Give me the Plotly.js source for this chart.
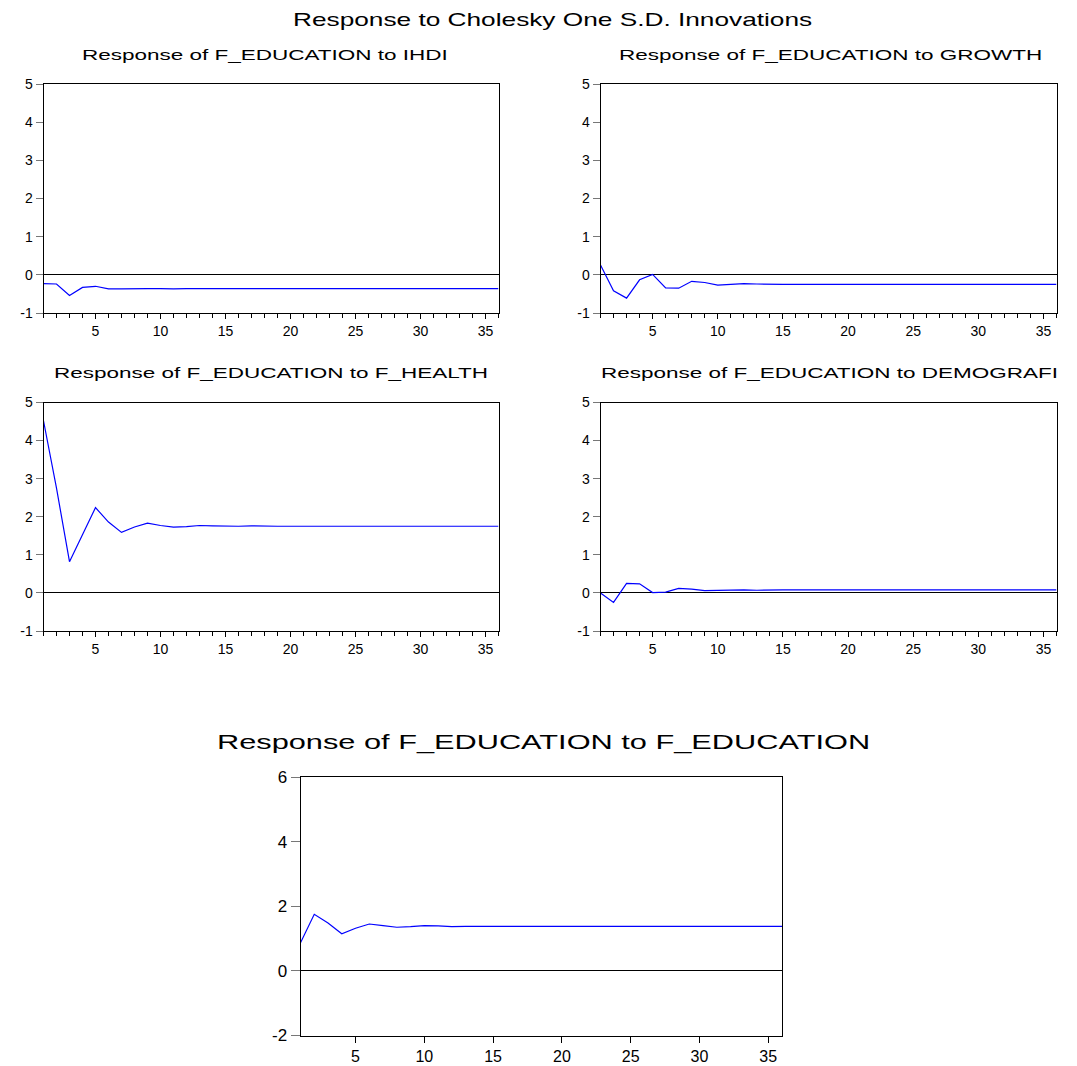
<!DOCTYPE html>
<html>
<head>
<meta charset="utf-8">
<script src="https://cdn.plot.ly/plotly-3.0.1.min.js"></script>
<style>
  html, body { margin: 0; padding: 0; background: #fff; }
  #chart { width: 1077px; height: 1066px; }
  .annotation-text { transform-box: fill-box; transform-origin: center; transform: scaleX(1.5); }
</style>
</head>
<body>
<div id="chart"></div>
<script>
// Periods 1..36
const periods = [1,2,3,4,5,6,7,8,9,10,11,12,13,14,15,16,17,18,19,20,21,22,23,24,25,26,27,28,29,30,31,32,33,34,35,36];

const respIHDI = [-0.23,-0.24,-0.54,-0.33,-0.30,-0.37,-0.37,-0.36,-0.36,-0.36,-0.37,-0.36,-0.36,-0.36,-0.36,-0.36,-0.36,-0.36,-0.36,-0.36,-0.36,-0.36,-0.36,-0.36,-0.36,-0.36,-0.36,-0.36,-0.36,-0.36,-0.36,-0.36,-0.36,-0.36,-0.36,-0.36];

const respGrowth = [0.26,-0.42,-0.61,-0.13,0.01,-0.34,-0.35,-0.17,-0.20,-0.27,-0.25,-0.23,-0.24,-0.25,-0.25,-0.25,-0.25,-0.25,-0.25,-0.25,-0.25,-0.25,-0.25,-0.25,-0.25,-0.25,-0.25,-0.25,-0.25,-0.25,-0.25,-0.25,-0.25,-0.25,-0.25,-0.25];

const respHealth = [4.52,2.75,0.82,1.52,2.24,1.86,1.59,1.73,1.83,1.77,1.73,1.74,1.77,1.76,1.75,1.75,1.76,1.75,1.75,1.75,1.75,1.75,1.75,1.75,1.75,1.75,1.75,1.75,1.75,1.75,1.75,1.75,1.75,1.75,1.75,1.75];

const respDemog = [0.00,-0.25,0.25,0.24,0.01,0.02,0.12,0.10,0.06,0.07,0.08,0.08,0.07,0.08,0.08,0.08,0.08,0.08,0.08,0.08,0.08,0.08,0.08,0.08,0.08,0.08,0.08,0.08,0.08,0.08,0.08,0.08,0.08,0.08,0.08,0.08];

const respEduc = [0.87,1.75,1.48,1.15,1.32,1.45,1.40,1.35,1.37,1.40,1.39,1.37,1.38,1.39,1.38,1.38,1.38,1.38,1.38,1.38,1.38,1.38,1.38,1.38,1.38,1.38,1.38,1.38,1.38,1.38,1.38,1.38,1.38,1.38,1.38,1.38];

const xTickVals = [5,10,15,20,25,30,35];
const yTickVals4 = [-1,0,1,2,3,4,5];
const yTickText4 = ["-1","0","1","2","3","4","5"];
const yTickVals5 = [-2,0,2,4,6];
const yTickText5 = ["-2","0","2","4","6"];

const mainTitle = "Response to Cholesky One S.D. Innovations";
const panelTitles = [
  "Response of F_EDUCATION to IHDI",
  "Response of F_EDUCATION to GROWTH",
  "Response of F_EDUCATION to F_HEALTH",
  "Response of F_EDUCATION to DEMOGRAFI",
  "Response of F_EDUCATION to F_EDUCATION"
];

const W = 1077, H = 1066;
const FONT = "Liberation Sans, Arial, sans-serif";
const series = [respIHDI, respGrowth, respHealth, respDemog, respEduc];

// panel boxes in pixels [x0, x1, yTop, yBottom]
const boxes = [
  [43.5, 498.5, 84, 313],
  [600.5, 1056.5, 84, 313],
  [43.5, 498.5, 402.5, 631],
  [600.5, 1056.5, 402.5, 631],
  [300.5, 782, 777, 1035.5]
];

const traces = series.map((ys, i) => ({
  x: periods, y: ys, type: 'scatter', mode: 'lines',
  line: {color: '#0000FF', width: 1.2},
  xaxis: 'x' + (i ? i + 1 : ''), yaxis: 'y' + (i ? i + 1 : ''),
  showlegend: false, hoverinfo: 'x+y'
}));

const layout = {
  width: W, height: H,
  margin: {l: 0, r: 0, t: 0, b: 0},
  paper_bgcolor: '#fff', plot_bgcolor: '#fff',
  showlegend: false,
  font: {family: FONT, color: '#000'},
  annotations: []
};

boxes.forEach((b, i) => {
  const big = i === 4;
  const xa = {
    domain: [b[0] / W, b[1] / W],
    range: [1, 36], anchor: 'y' + (i ? i + 1 : ''),
    showline: true, mirror: true, linecolor: '#000', linewidth: 1,
    showgrid: false, zeroline: false,
    tickmode: 'array', tickvals: xTickVals,
    ticks: 'outside', ticklen: big ? 6 : 5, tickcolor: '#000', tickwidth: 1,
    tickfont: {family: FONT, size: big ? 16 : 14, color: '#000'},
    fixedrange: true
  };
  if (!big) {
    xa.minor = {dtick: 1, tick0: 0, ticks: 'outside', ticklen: 4, tickcolor: '#000', tickwidth: 1, showgrid: false};
  }
  const ya = {
    domain: [1 - b[3] / H, 1 - b[2] / H],
    range: big ? [-2, 6] : [-1, 5], anchor: 'x' + (i ? i + 1 : ''),
    showline: true, mirror: true, linecolor: '#000', linewidth: 1,
    showgrid: false,
    zeroline: true, zerolinecolor: '#000', zerolinewidth: 1,
    tickmode: 'array', tickvals: big ? yTickVals5 : yTickVals4,
    ticktext: big ? yTickText5 : yTickText4,
    ticks: 'outside', ticklen: big ? 9 : 7, tickcolor: '#777', tickwidth: 1,
    tickfont: {family: FONT, size: big ? 17 : 14, color: '#000'},
    fixedrange: true
  };
  layout['xaxis' + (i ? i + 1 : '')] = xa;
  layout['yaxis' + (i ? i + 1 : '')] = ya;
});

layout.annotations.push({
  text: mainTitle, xref: 'paper', yref: 'paper',
  x: 553 / W, y: 1 - 20 / H, xanchor: 'center', yanchor: 'middle',
  showarrow: false, font: {family: FONT, size: 17.5, color: '#000'}
});

const titlePos = [[265, 55], [830, 55], [271, 373], [829, 373], [543, 742]];
panelTitles.forEach((t, i) => {
  layout.annotations.push({
    text: t, xref: 'paper', yref: 'paper',
    x: titlePos[i][0] / W, y: 1 - titlePos[i][1] / H,
    xanchor: 'center', yanchor: 'middle', showarrow: false,
    font: {family: FONT, size: i === 4 ? 20.5 : 15, color: '#000'}
  });
});

Plotly.newPlot('chart', traces, layout, {displayModeBar: false, staticPlot: true});
</script>
</body>
</html>
